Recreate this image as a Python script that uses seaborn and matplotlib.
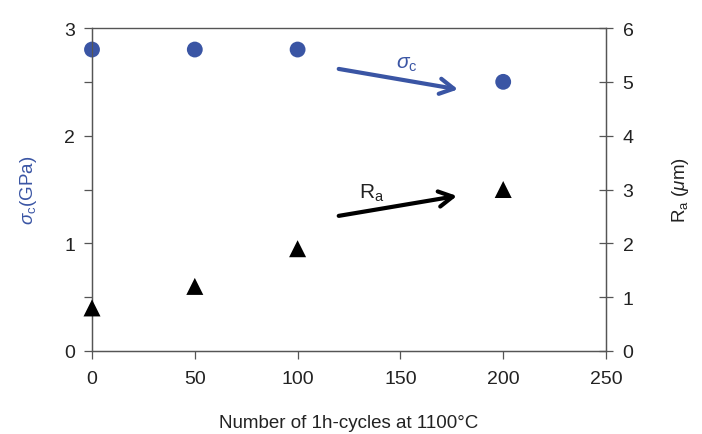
import matplotlib
matplotlib.use("Agg")
import matplotlib.pyplot as plt
import seaborn as sns
import pandas as pd
from matplotlib.ticker import MultipleLocator

cycles = [0, 50, 100, 200]
sigma_c = [2.8, 2.8, 2.8, 2.5]
ra = [0.8, 1.2, 1.9, 3.0]

blue = "#3a55a4"
sns.set_style("white")
plt.rcParams['font.family'] = ['Liberation Sans', 'DejaVu Sans']
plt.rcParams['mathtext.fontset'] = 'custom'
plt.rcParams['mathtext.rm'] = 'Liberation Sans'
plt.rcParams['mathtext.it'] = 'Liberation Sans:italic'
plt.rcParams['text.color'] = '#222222'

fig = plt.figure(figsize=(7.02, 4.35), dpi=100)
ax = fig.add_axes([92/702, 1-352/435, (606-92)/702, (352-29)/435])
ax2 = ax.twinx()

df1 = pd.DataFrame({"x": cycles, "y": sigma_c})
df2 = pd.DataFrame({"x": cycles, "y": ra})
sns.scatterplot(data=df1, x="x", y="y", ax=ax, color=blue, s=130, marker="o",
                edgecolor="none", clip_on=False, zorder=5)
sns.scatterplot(data=df2, x="x", y="y", ax=ax2, color="black", s=150, marker="^",
                edgecolor="none", clip_on=False, zorder=5)

ax.set_xlim(0, 250)
ax.set_ylim(0, 3)
ax2.set_ylim(0, 6)
ax.set_xticks([0, 50, 100, 150, 200, 250])
ax.set_yticks([0, 1, 2, 3])
ax.yaxis.set_minor_locator(MultipleLocator(0.5))
ax2.set_yticks(range(7))

for a in (ax, ax2):
    for s in a.spines.values():
        s.set_color("#555555")
        s.set_linewidth(0.9)
ax.spines['top'].set_color("#999999")

ax.tick_params(axis='x', direction='out', length=6, width=0.9, color="#555555",
               labelsize=14, pad=8, bottom=True, labelcolor="#222222")
ax.tick_params(axis='y', which='both', direction='out', length=6, width=0.9,
               color="#555555", labelsize=14, left=True, pad=6, labelcolor="#222222")
ax2.tick_params(axis='y', direction='inout', length=10, width=0.9, color="#555555",
                labelsize=14, right=True, pad=7, labelcolor="#222222")

ax.set_xlabel("Number of 1h-cycles at 1100°C", fontsize=13.5, labelpad=19,
              color="#222222")
ax.set_ylabel(r"$\sigma_{\rm c}$(GPa)", fontsize=13.5, color=blue, labelpad=18)
ax2.set_ylabel(r"R$_{\rm a}$ ($\mu$m)", fontsize=13.5, labelpad=26, color="#222222")

ax.annotate("", xy=(178, 2.43), xytext=(120, 2.62),
            arrowprops=dict(arrowstyle="->,head_length=1.0,head_width=0.55",
                            color=blue, lw=3, shrinkA=0, shrinkB=0))
ax2.annotate("", xy=(177.5, 2.88), xytext=(120, 2.51),
             arrowprops=dict(arrowstyle="->,head_length=1.0,head_width=0.55",
                             color="black", lw=3, shrinkA=0, shrinkB=0))
ax.text(153, 2.63, r"$\sigma_{\rm c}$", color=blue, fontsize=15, ha="center")
ax2.text(136, 2.85, r"R$_{\rm a}$", color="#222222", fontsize=15, ha="center")

fig.savefig("out.png", dpi=100)
